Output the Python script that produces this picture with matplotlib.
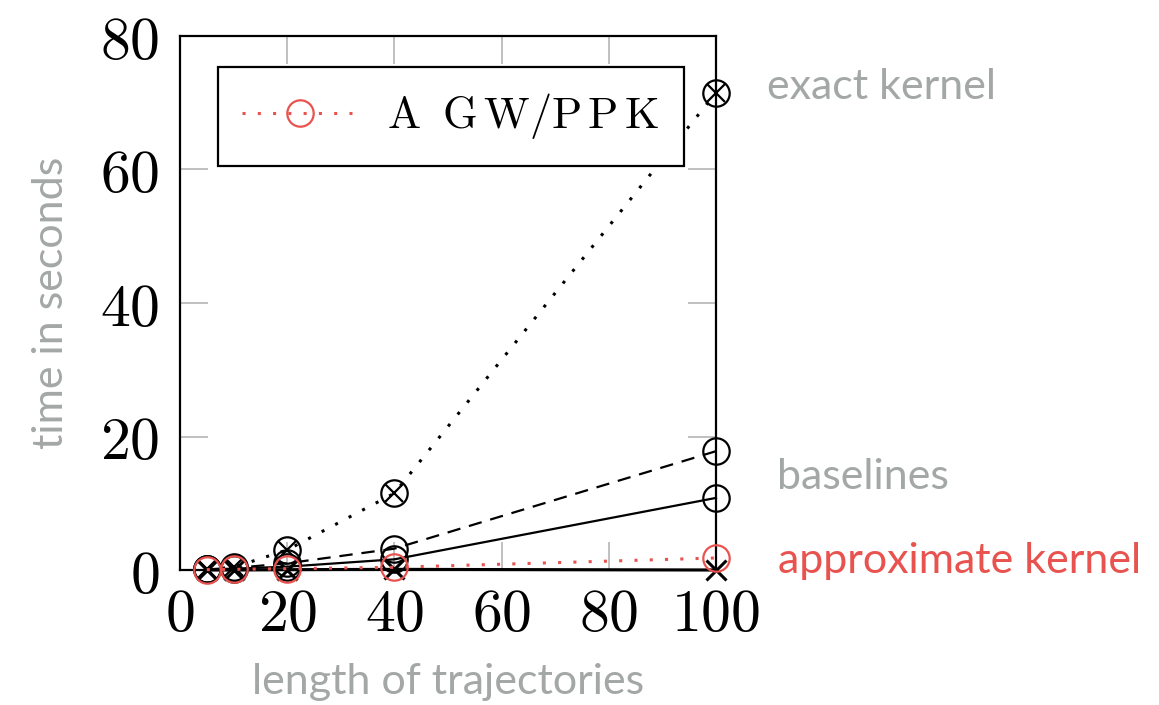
import matplotlib
matplotlib.use("Agg")
import matplotlib.pyplot as plt
from matplotlib.lines import Line2D

plt.rcParams['mathtext.fontset'] = 'cm'

# ---- data ----
lengths = [5, 10, 20, 40, 100]
exact_kernel = [0.1, 0.4, 3.0, 11.5, 71.5]
baseline_dashed = [0.1, 0.3, 1.0, 3.2, 17.8]
baseline_solid = [0.1, 0.2, 0.5, 1.6, 10.8]
approx_kernel = [0.05, 0.1, 0.2, 0.4, 1.8]
cross_series = [0.0, 0.0, 0.05, 0.1, 0.0]

xticks = [0, 20, 40, 60, 80, 100]
yticks = [0, 20, 40, 60, 80]
legend_label = r'$\mathrm{A\;\;G\,W/P\,P\,K}$'

GRAY = '#a3a8a7'
RED = '#e8534f'

fig = plt.figure(figsize=(11.59, 7.05), dpi=100)
ax = fig.add_axes([180/1159, 1-570/705, (716-180)/1159, (570-36)/705])

ms = 19
mew = 1.6
# exact kernel: dotted with otimes markers
ax.plot(lengths, exact_kernel, color='black', ls=(0, (1, 4)), lw=2.2,
        marker='o', ms=ms, mfc='none', mew=mew, clip_on=False, zorder=3)
ax.plot(lengths, exact_kernel, ls='none', color='black', marker='x', ms=ms*0.68,
        mew=mew, clip_on=False, zorder=3)
# baselines
ax.plot(lengths, baseline_dashed, color='black', ls=(0, (6, 4)), lw=1.6,
        marker='o', ms=ms, mfc='none', mew=mew, clip_on=False, zorder=3)
ax.plot(lengths, baseline_solid, color='black', ls='-', lw=1.6,
        marker='o', ms=ms, mfc='none', mew=mew, clip_on=False, zorder=3)
ax.plot(lengths, cross_series, color='black', ls='-', lw=2.2,
        marker='x', ms=14, mew=2.2, clip_on=False, zorder=3)
# approximate kernel
ax.plot(lengths, approx_kernel, color=RED, ls=(0, (1, 4)), lw=2.2,
        marker='o', ms=ms, mfc='none', mew=mew, clip_on=False, zorder=4)

ax.set_xlim(0, 100)
ax.set_ylim(0, 80)
ax.set_xticks(xticks)
ax.set_yticks(yticks)
ax.set_xticklabels([f'${t}$' for t in xticks])
ax.set_yticklabels([f'${t}$' for t in yticks])
ax.tick_params(direction='in', length=20, width=1.2, color='#b5b5b5',
               top=True, right=True, labelsize=43, labelcolor='black')
ax.tick_params(axis='x', pad=11)
ax.tick_params(axis='y', pad=15)
for s in ax.spines.values():
    s.set_linewidth(1.6)

ax.set_xlabel('length of trajectories', fontsize=31, color=GRAY,
              fontfamily='Lato')
ax.set_ylabel('time in seconds', fontsize=31, color=GRAY,
              fontfamily='Lato')
ax.xaxis.set_label_coords(0.5, -0.174)
ax.yaxis.set_label_coords(-0.205, 0.5)

handle = Line2D([], [], color=RED, ls=(0, (1, 4)), lw=2.2, marker='o',
                ms=ms, mfc='none', mew=mew)
leg = ax.legend([handle], [legend_label], loc='upper left',
                bbox_to_anchor=((218-180)/536, (570-67)/534),
                fontsize=32, frameon=True, fancybox=False,
                edgecolor='black', framealpha=1, handlelength=2.6,
                handletextpad=0.65, borderpad=0.55, borderaxespad=0)
leg.get_frame().set_linewidth(1.6)

ax.text(1.095, 72.3, 'exact kernel', transform=ax.get_yaxis_transform(),
        fontsize=31, color=GRAY, fontfamily='Lato', va='center', ha='left')
ax.text(1.114, 14.0, 'baselines', transform=ax.get_yaxis_transform(),
        fontsize=31, color=GRAY, fontfamily='Lato', va='center', ha='left')
ax.text(1.116, 1.3, 'approximate kernel', transform=ax.get_yaxis_transform(),
        fontsize=31, color=RED, fontfamily='Lato', va='center', ha='left')

fig.savefig('out.png', dpi=100)
